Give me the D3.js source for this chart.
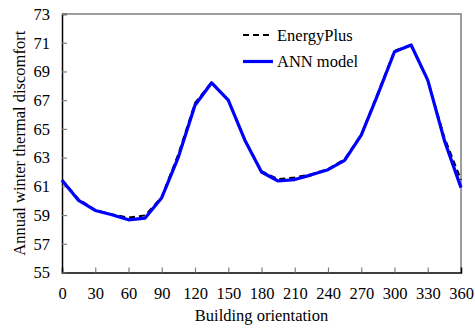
<!DOCTYPE html>
<html><head><meta charset="utf-8">
<script src="https://cdn.jsdelivr.net/npm/d3@7"></script>
<style>html,body{margin:0;padding:0;background:#fff}svg{display:block}</style>
</head><body>
<svg id="c" width="475" height="331"></svg>
<script>
const angles = [0,15,30,45,60,75,90,105,120,135,150,165,180,195,210,225,240,255,270,285,300,315,330,345,360];
const energyPlus = [61.45,60.1,59.35,59.05,58.82,58.98,60.25,63.25,66.8,68.25,67.0,64.25,62.05,61.5,61.62,61.85,62.2,62.9,64.6,67.5,70.45,70.84,68.4,64.4,61.45];
const annModel = [61.42,60.02,59.32,59.02,58.67,58.79,60.21,63.04,66.65,68.21,67.0,64.21,62.0,61.37,61.47,61.8,62.16,62.81,64.56,67.4,70.37,70.84,68.4,64.2,60.91];
const xTicks = [0,30,60,90,120,150,180,210,240,270,300,330,360];
const yTicks = [55,57,59,61,63,65,67,69,71,73];
const seriesNames = ["EnergyPlus","ANN model"];

const svg = d3.select("#c");
const L=62,R=461,T=14,B=272.5;
const x = d3.scaleLinear().domain([0,360]).range([L,R]);
const y = d3.scaleLinear().domain([55,73]).range([B,T]);
const font = "'Liberation Serif','Times New Roman',serif";
const fs = 16.5;

svg.append("path").attr("d",`M${L},${T}H${R}V${B}`).attr("fill","none").attr("stroke","#7f7f7f").attr("stroke-width",1.5);

const xa = svg.append("g").attr("transform",`translate(0,${B})`)
  .call(d3.axisBottom(x).tickValues(xTicks).tickSize(-5).tickPadding(15).tickFormat(d3.format("d")));
const ya = svg.append("g").attr("transform",`translate(${L},0)`)
  .call(d3.axisLeft(y).tickValues(yTicks).tickSize(-5).tickPadding(12).tickFormat(d3.format("d")));
[xa,ya].forEach(a=>{
  a.select(".domain").attr("stroke","#000").attr("stroke-width",1.5);
  a.selectAll(".tick line").attr("stroke","#7f7f7f").attr("stroke-width",1.2);
  a.selectAll(".tick text").attr("font-family",font).attr("font-size",fs).attr("fill","#000");
});
xa.selectAll(".tick").filter(d=>d===0||d===360).select("line").remove();

const line = d3.line().x((d,i)=>x(angles[i])).y(d=>y(d));
svg.append("path").datum(energyPlus).attr("d",line).attr("fill","none")
  .attr("stroke","#000").attr("stroke-width",2).attr("stroke-dasharray","6,4");
svg.append("path").datum(annModel).attr("d",line).attr("fill","none")
  .attr("stroke","#0000ff").attr("stroke-width",3.2).attr("stroke-linejoin","round");

const lg = svg.append("g");
lg.append("line").attr("x1",243).attr("x2",273).attr("y1",35).attr("y2",35)
  .attr("stroke","#000").attr("stroke-width",2).attr("stroke-dasharray","6,4");
lg.append("text").attr("x",277).attr("y",40.5).text(seriesNames[0])
  .attr("font-family",font).attr("font-size",fs);
lg.append("line").attr("x1",243).attr("x2",273).attr("y1",61.5).attr("y2",61.5)
  .attr("stroke","#0000ff").attr("stroke-width",3.2);
lg.append("text").attr("x",277).attr("y",67).text(seriesNames[1])
  .attr("font-family",font).attr("font-size",fs);

svg.append("text").attr("x",(L+R)/2).attr("y",321).attr("text-anchor","middle")
  .attr("font-family",font).attr("font-size",fs).text("Building orientation");
svg.append("text").attr("transform",`translate(25,${(T+B)/2}) rotate(-90)`).attr("text-anchor","middle")
  .attr("font-family",font).attr("font-size",fs).text("Annual winter thermal discomfort");
</script>
</body></html>
